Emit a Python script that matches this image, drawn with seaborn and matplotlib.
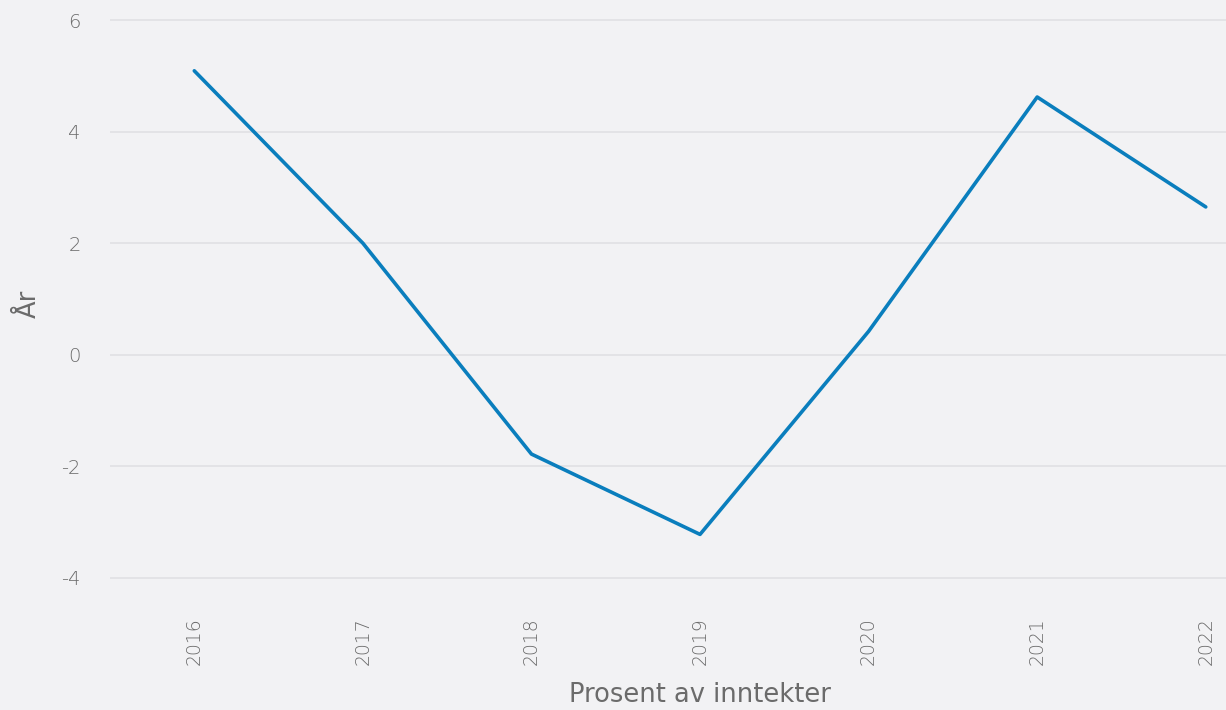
import matplotlib
matplotlib.use("Agg")
import matplotlib.pyplot as plt
import pandas as pd
import seaborn as sns

# Data
years = ["2016", "2017", "2018", "2019", "2020", "2021", "2022"]
values = [5.09, 2.0, -1.78, -3.22, 0.42, 4.62, 2.65]

BG = "#f2f2f4"
LINE = "#0a7ebd"
TEXT = "#6b6b6b"

sns.set_theme(style="whitegrid")
plt.rcParams["font.family"] = ["DejaVu Sans"]

df = pd.DataFrame({"year": years, "value": values})

fig = plt.figure(figsize=(12.26, 7.10), dpi=100, facecolor=BG)
ax = fig.add_axes([110 / 1226, 1 - 598 / 710, 1116 / 1226, 588 / 710])
ax.set_facecolor(BG)

sns.lineplot(data=df, x="year", y="value", color=LINE, linewidth=2.6,
             sort=False, ax=ax)

ax.set_xlim(-0.5, 6.12)
ax.set_ylim(-4.36, 6.18)
ax.set_yticks([-4, -2, 0, 2, 4, 6])
ax.set_yticklabels(["-4", "-2", "0", "2", "4", "6"])

ax.grid(axis="y", color="#e2e2e5", linewidth=1.3)
ax.grid(axis="x", visible=False)
for s in ax.spines.values():
    s.set_visible(False)

ax.tick_params(axis="y", colors=TEXT, labelsize=14, length=0, pad=21)
ax.tick_params(axis="x", colors=TEXT, labelsize=13.5, length=0, pad=14,
               labelrotation=90)
for lab in ax.get_xticklabels() + ax.get_yticklabels():
    lab.set_fontweight("light")

ax.set_xlabel("Prosent av inntekter", color=TEXT, fontsize=18.5)
ax.xaxis.set_label_coords((700 - 110) / 1116, -(695 - 598) / 588)
ax.xaxis.label.set_verticalalignment("center")
ax.set_ylabel("År", color=TEXT, fontsize=18.5, labelpad=14)

fig.savefig("out.png", dpi=100, facecolor=BG)
